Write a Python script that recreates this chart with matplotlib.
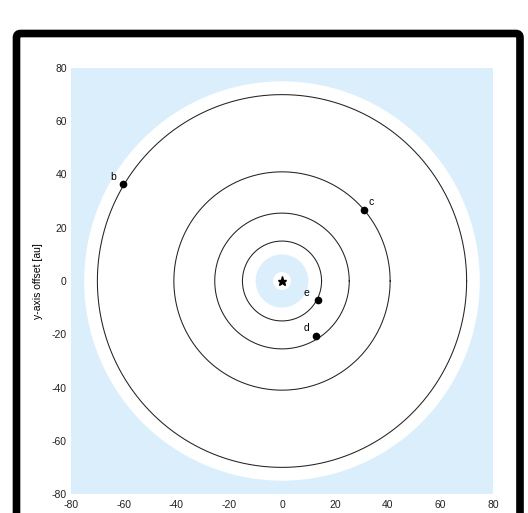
import numpy as np
import matplotlib.pyplot as plt
from matplotlib.patches import Circle, FancyBboxPatch

plt.rcParams['font.family'] = ['Liberation Sans', 'DejaVu Sans']
plt.rcParams['font.size'] = 7.5
plt.rcParams['axes.unicode_minus'] = False

# orbital radii [au] and current positions of the planets
planets = ['b', 'c', 'd', 'e']
orbit_r = [70.0, 41.0, 25.5, 15.0]
planet_x = [-60.2, 31.1, 13.0, 13.6]
planet_y = [36.4, 26.5, -20.8, -7.3]
label_dx = [-7, 5, -7, -8]   # label offsets in points
label_dy = [5, 6, 6, 5]

# debris disk: outer belt edge, inner belt edges [au]
disk_outer = 75.0
belt_outer = 10.0
belt_inner = 3.4

ticks = [-80, -60, -40, -20, 0, 20, 40, 60, 80]
sky = '#dbeefc'

fig = plt.figure(figsize=(5.28, 5.13), dpi=100)
ax = fig.add_axes([71/528, 19/513, 422/528, 426/513])
ax.set_facecolor(sky)

ax.add_patch(Circle((0, 0), disk_outer, color='white', lw=0))
ax.add_patch(Circle((0, 0), belt_outer, color=sky, lw=0))
ax.add_patch(Circle((0, 0), belt_inner, color='white', lw=0))

th = np.linspace(0, 2*np.pi, 721)
for r in orbit_r:
    ax.plot(r*np.cos(th), r*np.sin(th), color='#222222', lw=0.75)

ax.plot(0, 0, marker='*', color='black', ms=6.5, ls='none')
ax.plot(planet_x, planet_y, 'o', color='black', ms=4.5)
for name, x, y, dx, dy in zip(planets, planet_x, planet_y, label_dx, label_dy):
    ax.annotate(name, (x, y), xytext=(dx, dy), textcoords='offset points',
                ha='center', va='center', fontsize=7.5)

ax.set_xlim(-80, 80)
ax.set_ylim(-80, 80)
ax.set_xticks(ticks)
ax.set_yticks(ticks)
ax.tick_params(length=0, pad=4.5, colors='#222222')
ax.tick_params(axis='y', pad=3)
for s in ax.spines.values():
    s.set_visible(False)
ax.set_ylabel('y-axis offset [au]', labelpad=6)

# heavy rounded border around the panel
frame = FancyBboxPatch((16.5/528, -0.05), (520 - 16.5)/528, 1.05 - 33.5/513,
                       boxstyle='round,pad=0,rounding_size=0.008',
                       transform=fig.transFigure, fill=False,
                       ec='black', lw=5.5, clip_on=False)
fig.patches.append(frame)

plt.savefig('out.png', dpi=100)
